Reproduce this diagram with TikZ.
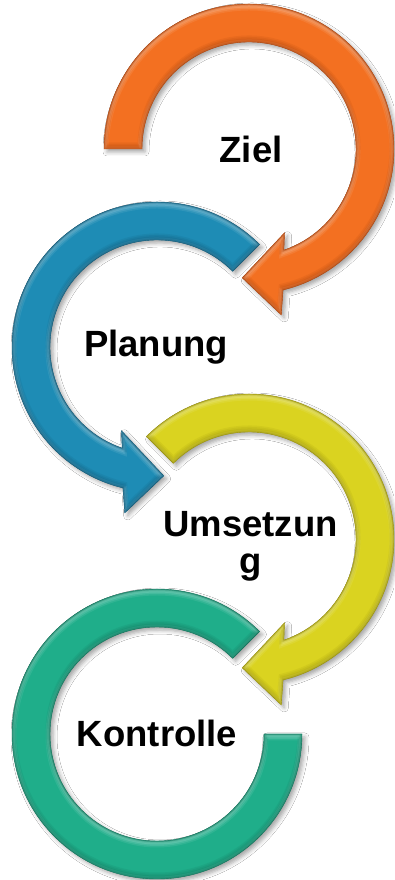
\documentclass[tikz,border=0pt]{standalone}
\usepackage{fontspec}
\setmainfont{Liberation Sans}
\usetikzlibrary{shadows.blur}

\definecolor{ziel}{RGB}{243,112,33}
\definecolor{zieldark}{RGB}{168,66,12}
\definecolor{plan}{RGB}{30,140,181}
\definecolor{plandark}{RGB}{16,86,116}
\definecolor{umsetz}{RGB}{218,211,32}
\definecolor{umsetzdark}{RGB}{150,142,10}
\definecolor{kontr}{RGB}{31,174,138}
\definecolor{kontrdark}{RGB}{16,112,88}

% ring arrow running clockwise from angle #1 over the top, head at the lower right
\newcommand\cwringarrow[1]{(#1:145) arc[start angle=#1,end angle=-76.4,radius=145]
  -- (-79:169) -- (-93:129) -- (-67:91) -- (-71:107)
  arc[start angle=-71,end angle=#1,radius=107] -- cycle}
% ring arrow running counter-clockwise from 45 degrees, head at the lower left
\newcommand\ccwringarrow{(45:145) arc[start angle=45,end angle=256.4,radius=145]
  -- (259:169) -- (273:129) -- (247:91) -- (251:107)
  arc[start angle=251,end angle=45,radius=107] -- cycle}
% open ring without head
\newcommand\openring{(45:145) arc[start angle=45,end angle=360,radius=145]
  -- (0:107) arc[start angle=360,end angle=45,radius=107] -- cycle}

% filled shape with soft shadow and a soft embossed rim
\newcommand\bevelshape[3]{%
  \fill[#2, blur shadow={shadow xshift=3pt, shadow yshift=-3pt,
        shadow blur radius=4pt, shadow opacity=35}] #1;
  \begin{scope}
    \clip #1;
    \foreach \w/\o in {9/.08,6/.1,3/.12}{
      \draw[white, opacity=\o, line width=\w, yshift=-2] #1;
      \draw[#3, opacity=\o+.05, line width=\w, yshift=2] #1;
    }
    \draw[#3, opacity=.3, line width=2.5] #1;
  \end{scope}
  \draw[#3, line width=.4] #1;
}

\tikzset{
  stagelabel/.style={font=\fontsize{36.5}{37}\selectfont\bfseries, inner sep=0pt, anchor=base}
}

\begin{document}
\begin{tikzpicture}[x=1pt,y=1pt]
  \useasboundingbox (0,0) rectangle (394,880);
  \fill[white] (0,0) rectangle (394,880);

  % Ziel
  \begin{scope}[shift={(249,731)}]
    \bevelshape{\cwringarrow{180}}{ziel}{zieldark}
  \end{scope}
  % Planung
  \begin{scope}[shift={(157,533)}]
    \bevelshape{\ccwringarrow}{plan}{plandark}
  \end{scope}
  % Umsetzung
  \begin{scope}[shift={(249,341)}]
    \bevelshape{\cwringarrow{135}}{umsetz}{umsetzdark}
  \end{scope}
  % Kontrolle
  \begin{scope}[shift={(157,146)}]
    \bevelshape{\openring}{kontr}{kontrdark}
  \end{scope}

  \node[stagelabel] (ziel) at (251,717) {Ziel};
  \node[stagelabel] (planung) at (156,523) {Planung};
  \node[stagelabel] (umsetzung) at (250.5,343) {Umsetzun};
  \node[stagelabel] (umsetzungrest) at (250.5,306) {g};
  \node[stagelabel] (kontrolle) at (157,133) {Kontrolle};
\end{tikzpicture}
\end{document}
